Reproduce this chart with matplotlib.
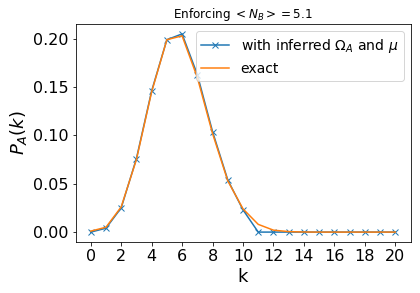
import numpy as np
import matplotlib
matplotlib.use('Agg')
import matplotlib.pyplot as plt

k = np.arange(0, 21)
# inferred distribution
p_inferred = [0.0, 0.004, 0.025, 0.076, 0.146, 0.199, 0.205, 0.163, 0.104, 0.054, 0.023,
              0.0, 0.0, 0.0, 0.0, 0.0, 0.0, 0.0, 0.0, 0.0, 0.0]
# exact distribution
p_exact = [0.001, 0.005, 0.026, 0.075, 0.145, 0.199, 0.203, 0.160, 0.102, 0.053, 0.024,
           0.008, 0.002, 0.0005, 0.0001, 0.0, 0.0, 0.0, 0.0, 0.0, 0.0]

fig = plt.figure(figsize=(420/72, 293/72), dpi=72)
ax = fig.add_axes([75.5/420, 1-242/293, (410.5-75.5)/420, (242-24)/293])
ax.plot(k, p_inferred, marker='x', label=r'with inferred $\Omega_A$ and $\mu$')
ax.plot(k, p_exact, label='exact')
ax.set_xticks(range(0, 21, 2))
ax.set_yticks([0.0, 0.05, 0.10, 0.15, 0.20])
ax.tick_params(labelsize=16)
ax.set_xlabel('k', fontsize=18)
ax.set_ylabel(r'$P_A(k)$', fontsize=18)
ax.set_title(r'Enforcing $<N_B>=5.1$', fontsize=12)
ax.legend(fontsize=14, loc='upper right')
fig.savefig('out.png', dpi=72)
